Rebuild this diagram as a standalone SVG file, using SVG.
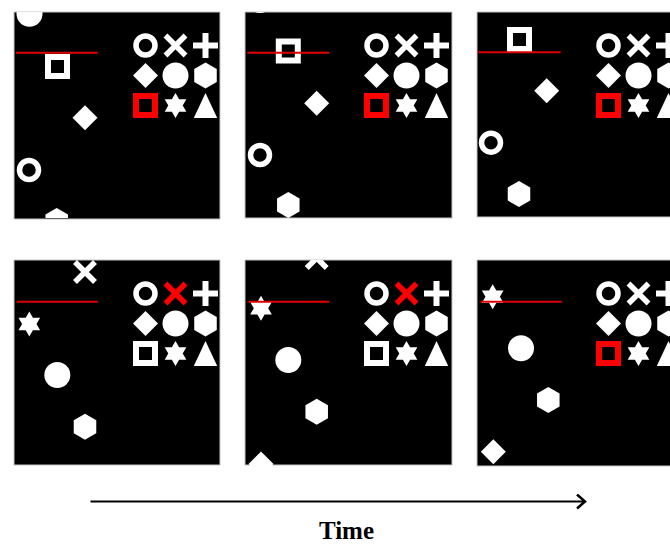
<svg xmlns="http://www.w3.org/2000/svg" xmlns:xlink="http://www.w3.org/1999/xlink" width="670" height="544" viewBox="0 0 670 544">
<style>
.bg{fill:#000;stroke:#c4c4c4;stroke-width:1}
.w{fill:#fff}
.ws{fill:none;stroke:#fff}
.r{fill:#ff0000}
.rs{fill:none;stroke:#ff0000}
.cue{stroke:#e00000;stroke-width:2;fill:none}
.axis{stroke:#000;stroke-width:2;fill:none}
.lbl{font-family:"Liberation Serif","Times New Roman",serif;font-weight:bold;font-size:25px;fill:#000}
</style>
<defs>
<clipPath id="pc" clipPathUnits="userSpaceOnUse"><rect x="0" y="0" width="206" height="206"/></clipPath>
<g id="ring"><circle cx="0" cy="0" r="9.5" stroke-width="5.5"/></g>
<g id="xm"><path d="M-10,-10L10,10M10,-10L-10,10" stroke-width="5.5"/></g>
<g id="plus"><path d="M-12.5,0H12.5M0,-12.5V12.5" stroke-width="6"/></g>
<polygon id="diamond" points="0,-12.5 12.5,0 0,12.5 -12.5,0"/>
<circle id="disc" cx="0" cy="0" r="13"/>
<polygon id="hex" points="0,-13 11.26,-6.5 11.26,6.5 0,13 -11.26,6.5 -11.26,-6.5"/>
<rect id="sq" x="-9.5" y="-9.5" width="19" height="19" stroke-width="6"/>
<path id="star" d="M0,-12.5L10.83,6.25L-10.83,6.25Z M0,12.5L-10.83,-6.25L10.83,-6.25Z"/>
<polygon id="tri" points="0,-12.5 11.7,12.5 -11.7,12.5"/>
<marker id="ah" markerWidth="14" markerHeight="18" refX="9" refY="8" orient="auto" markerUnits="userSpaceOnUse">
<path d="M1,1L9,8L1,15" fill="none" stroke="#000" stroke-width="2.5"/>
</marker>
</defs>

<!-- Panel 1 -->
<g id="panel1" transform="translate(14,12)">
<rect class="bg" x="0" y="0" width="206" height="207"/>
<g clip-path="url(#pc)">
<use href="#disc" class="w" x="15.5" y="1.7"/>
<use href="#sq" class="ws" x="43.5" y="54.5"/>
<use href="#diamond" class="w" x="71" y="105.7"/>
<use href="#ring" class="ws" x="15" y="158"/>
<use href="#hex" class="w" x="42.7" y="209"/>
</g>
<line class="cue" x1="2" y1="40.7" x2="83.7" y2="40.7"/>
<g id="legend1">
<use href="#ring" class="ws" x="131.5" y="33.5"/>
<use href="#xm" class="ws" x="161.5" y="33.5"/>
<use href="#plus" class="ws" x="191.5" y="33.5"/>
<use href="#diamond" class="w" x="131.5" y="63.5"/>
<use href="#disc" class="w" x="161.5" y="63.5"/>
<use href="#hex" class="w" x="191.5" y="63.5"/>
<use href="#sq" class="rs" x="131.5" y="93.5"/>
<use href="#star" class="w" x="161.5" y="93.5"/>
<use href="#tri" class="w" x="191.5" y="93.5"/>
</g>
</g>

<!-- Panel 2 -->
<g id="panel2" transform="translate(245,12)">
<rect class="bg" x="0" y="0" width="207" height="206"/>
<g clip-path="url(#pc)">
<use href="#disc" class="w" x="15" y="-12"/>
<use href="#sq" class="ws" x="43.3" y="39"/>
<use href="#diamond" class="w" x="71.7" y="91.3"/>
<use href="#ring" class="ws" x="15" y="143"/>
<use href="#hex" class="w" x="43.3" y="193"/>
</g>
<line class="cue" x1="2.3" y1="40.7" x2="84.3" y2="40.7"/>
<g id="legend2">
<use href="#ring" class="ws" x="131.5" y="33.5"/>
<use href="#xm" class="ws" x="161.5" y="33.5"/>
<use href="#plus" class="ws" x="191.5" y="33.5"/>
<use href="#diamond" class="w" x="131.5" y="63.5"/>
<use href="#disc" class="w" x="161.5" y="63.5"/>
<use href="#hex" class="w" x="191.5" y="63.5"/>
<use href="#sq" class="rs" x="131.5" y="93.5"/>
<use href="#star" class="w" x="161.5" y="93.5"/>
<use href="#tri" class="w" x="191.5" y="93.5"/>
</g>
</g>

<!-- Panel 3 -->
<g id="panel3" transform="translate(477,12)">
<rect class="bg" x="0" y="0" width="206" height="205"/>
<g clip-path="url(#pc)">
<use href="#sq" class="ws" x="42.5" y="27.5"/>
<use href="#diamond" class="w" x="69.7" y="78.7"/>
<use href="#ring" class="ws" x="14" y="130.7"/>
<use href="#hex" class="w" x="42" y="182"/>
</g>
<line class="cue" x1="1.3" y1="40.3" x2="83.7" y2="40.3"/>
<g id="legend3">
<use href="#ring" class="ws" x="131.5" y="33.5"/>
<use href="#xm" class="ws" x="161.5" y="33.5"/>
<use href="#plus" class="ws" x="191.5" y="33.5"/>
<use href="#diamond" class="w" x="131.5" y="63.5"/>
<use href="#disc" class="w" x="161.5" y="63.5"/>
<use href="#hex" class="w" x="191.5" y="63.5"/>
<use href="#sq" class="rs" x="131.5" y="93.5"/>
<use href="#star" class="w" x="161.5" y="93.5"/>
<use href="#tri" class="w" x="191.5" y="93.5"/>
</g>
</g>

<!-- Panel 4 -->
<g id="panel4" transform="translate(14,260)">
<rect class="bg" x="0" y="0" width="206" height="205"/>
<g clip-path="url(#pc)">
<use href="#xm" class="ws" x="71" y="12"/>
<use href="#star" class="w" x="15.3" y="64"/>
<use href="#disc" class="w" x="43.3" y="115"/>
<use href="#hex" class="w" x="71" y="166.7"/>
</g>
<line class="cue" x1="2.7" y1="41.7" x2="83.7" y2="41.7"/>
<g id="legend4">
<use href="#ring" class="ws" x="131.5" y="33.5"/>
<use href="#xm" class="rs" x="161.5" y="33.5"/>
<use href="#plus" class="ws" x="191.5" y="33.5"/>
<use href="#diamond" class="w" x="131.5" y="63.5"/>
<use href="#disc" class="w" x="161.5" y="63.5"/>
<use href="#hex" class="w" x="191.5" y="63.5"/>
<use href="#sq" class="ws" x="131.5" y="93.5"/>
<use href="#star" class="w" x="161.5" y="93.5"/>
<use href="#tri" class="w" x="191.5" y="93.5"/>
</g>
</g>

<!-- Panel 5 -->
<g id="panel5" transform="translate(245,260)">
<rect class="bg" x="0" y="0" width="207" height="205"/>
<g clip-path="url(#pc)">
<use href="#xm" class="ws" x="71.7" y="-2"/>
<use href="#star" class="w" x="16" y="48.3"/>
<use href="#disc" class="w" x="43.3" y="100"/>
<use href="#hex" class="w" x="71.7" y="151.7"/>
<use href="#diamond" class="w" x="16" y="204"/>
</g>
<line class="cue" x1="3.3" y1="41.7" x2="84.3" y2="41.7"/>
<g id="legend5">
<use href="#ring" class="ws" x="131.5" y="33.5"/>
<use href="#xm" class="rs" x="161.5" y="33.5"/>
<use href="#plus" class="ws" x="191.5" y="33.5"/>
<use href="#diamond" class="w" x="131.5" y="63.5"/>
<use href="#disc" class="w" x="161.5" y="63.5"/>
<use href="#hex" class="w" x="191.5" y="63.5"/>
<use href="#sq" class="ws" x="131.5" y="93.5"/>
<use href="#star" class="w" x="161.5" y="93.5"/>
<use href="#tri" class="w" x="191.5" y="93.5"/>
</g>
</g>

<!-- Panel 6 -->
<g id="panel6" transform="translate(477,260)">
<rect class="bg" x="0" y="0" width="206" height="206"/>
<g clip-path="url(#pc)">
<use href="#star" class="w" x="15.7" y="36.7"/>
<use href="#disc" class="w" x="44" y="88.3"/>
<use href="#hex" class="w" x="71.3" y="140"/>
<use href="#diamond" class="w" x="16.3" y="191.7"/>
</g>
<line class="cue" x1="3.7" y1="41.7" x2="84.7" y2="41.7"/>
<g id="legend6">
<use href="#ring" class="ws" x="131.5" y="33.5"/>
<use href="#xm" class="ws" x="161.5" y="33.5"/>
<use href="#plus" class="ws" x="191.5" y="33.5"/>
<use href="#diamond" class="w" x="131.5" y="63.5"/>
<use href="#disc" class="w" x="161.5" y="63.5"/>
<use href="#hex" class="w" x="191.5" y="63.5"/>
<use href="#sq" class="rs" x="131.5" y="93.5"/>
<use href="#star" class="w" x="161.5" y="93.5"/>
<use href="#tri" class="w" x="191.5" y="93.5"/>
</g>
</g>

<!-- Time axis -->
<g id="connectors">
<line class="axis" x1="90.5" y1="501.5" x2="585" y2="501.5" marker-end="url(#ah)"/>
</g>
<g id="time-label">
<text class="lbl" x="346.5" y="539" text-anchor="middle">Time</text>
</g>
</svg>
